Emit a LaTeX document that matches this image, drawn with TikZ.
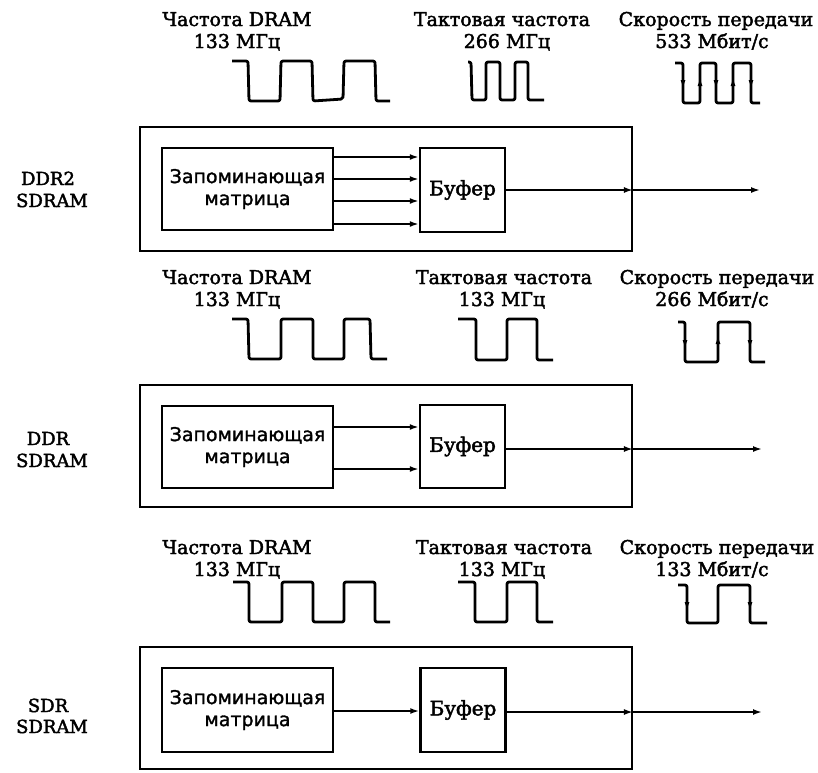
\documentclass[tikz,border=0pt]{standalone}
\usepackage{fontspec}
\setmainfont{DejaVu Serif}[RawFeature={embolden=2.2}]
\newfontfamily\sansf{DejaVu Sans}[RawFeature={embolden=1.5}]
\usetikzlibrary{arrows.meta}
\tikzset{
  lbl/.style={font=\fontsize{19}{22}\selectfont, anchor=base, inner sep=0pt},
  sidelbl/.style={font=\fontsize{18}{22}\selectfont, anchor=base, inner sep=0pt},
  outerbox/.style={draw, line width=1.9pt, minimum width=492pt, minimum height=124pt, inner sep=0pt},
  matbox/.style={draw, line width=2.5pt, minimum width=171pt, minimum height=82pt, align=center, inner sep=0pt, font=\sansf\fontsize{19}{22}\selectfont},
  bufbox/.style={draw, line width=2.5pt, minimum width=85pt, minimum height=84pt, inner sep=0pt, font=\fontsize{20}{22}\selectfont},
  arr/.style={line width=1.7pt, -{Latex[length=9pt,width=6pt]}},
  wave/.style={line width=2.8pt, rounded corners=2pt, line join=round},
  edgearr/.style={line width=1.5pt, -{Latex[length=9pt,width=5pt]}}
}
\begin{document}
\begin{tikzpicture}[x={(1pt,0pt)}, y={(0pt,-1pt)}]
\useasboundingbox (0,0) rectangle (818,772);

% ---------- Row 1: DDR2 ----------
\node[lbl] (t1a) at (237,26) {Частота DRAM};
\node[lbl] (t1b) at (237,48) {133 МГц};
\node[lbl] (t1c) at (502,26) {Тактовая частота};
\node[lbl] (t1d) at (507,48) {266 МГц};
\node[lbl] (t1e) at (716,26) {Скорость передачи};
\node[lbl] (t1f) at (712,48) {533 Мбит/с};

\draw[wave] (232,61) -- (248,61) -- (249,101) -- (280,101) -- (281,61) -- (312,61) -- (313,101) -- (343,99) -- (344,61) -- (375,61) -- (376,101) -- (390,101);
\draw[wave] (468,62) -- (471,62) -- (472,100) -- (486,100) -- (486,62) -- (500,62) -- (500,100) -- (515,100) -- (515,62) -- (528,62) -- (528,100) -- (544,100);
\draw[wave] (675,63) -- (683,63) -- (683,103) -- (700,103) -- (700,63) -- (716,63) -- (716,103) -- (733,103) -- (733,63) -- (751,63) -- (751,103) -- (760,103);
\draw[edgearr] (683,63) -- (683,89);
\draw[edgearr] (700,103) -- (700,77);
\draw[edgearr] (716,63) -- (716,89);
\draw[edgearr] (733,103) -- (733,77);
\draw[edgearr] (751,63) -- (751,89);

\node[sidelbl] (l1a) at (48,185) {DDR2};
\node[sidelbl] (l1b) at (52,207) {SDRAM};
\node[outerbox] (o1) at (386,189) {};
\node[matbox] (m1) at (247.5,189) {Запоминающая\\матрица};
\node[bufbox] (b1) at (462.5,190) {Буфер};
\draw[arr] (m1.east |- 0,157) -- (b1.west |- 0,157);
\draw[arr] (m1.east |- 0,179) -- (b1.west |- 0,179);
\draw[arr] (m1.east |- 0,201) -- (b1.west |- 0,201);
\draw[arr] (m1.east |- 0,224) -- (b1.west |- 0,224);
\coordinate (e1) at (760,190);
\draw[arr] (b1.east) -- (b1.east -| o1.east);
\draw[arr] (b1.east -| o1.east) -- (e1);

% ---------- Row 2: DDR ----------
\node[lbl] (t2a) at (237,284) {Частота DRAM};
\node[lbl] (t2b) at (237,306) {133 МГц};
\node[lbl] (t2c) at (504,284) {Тактовая частота};
\node[lbl] (t2d) at (502,306) {133 МГц};
\node[lbl] (t2e) at (717,284) {Скорость передачи};
\node[lbl] (t2f) at (712,306) {266 Мбит/с};

\draw[wave] (232,319) -- (248,319) -- (249,359) -- (281,359) -- (281,319) -- (313,319) -- (313,359) -- (344,359) -- (344,319) -- (370,319) -- (371,359) -- (387,359);
\draw[wave] (458,319) -- (476,319) -- (476,360) -- (507,360) -- (507,319) -- (537,319) -- (537,360) -- (553,360);
\draw[wave] (678,322) -- (685,322) -- (685,362) -- (718,362) -- (718,322) -- (750,322) -- (750,362) -- (765,362);
\draw[edgearr] (685,322) -- (685,349);
\draw[edgearr] (718,362) -- (718,335);
\draw[edgearr] (750,322) -- (750,349);

\node[sidelbl] (l2a) at (48,445) {DDR};
\node[sidelbl] (l2b) at (52,467) {SDRAM};
\node[outerbox, minimum height=122pt] (o2) at (386,446) {};
\node[matbox] (m2) at (247.5,447) {Запоминающая\\матрица};
\node[bufbox, minimum height=83pt] (b2) at (462.5,446.5) {Буфер};
\draw[arr] (m2.east |- 0,427) -- (b2.west |- 0,427);
\draw[arr] (m2.east |- 0,469) -- (b2.west |- 0,469);
\coordinate (e2) at (762,449);
\draw[arr] (b2.east |- 0,449) -- (o2.east |- 0,449);
\draw[arr] (o2.east |- 0,449) -- (e2);

% ---------- Row 3: SDR ----------
\node[lbl] (t3a) at (237,554) {Частота DRAM};
\node[lbl] (t3b) at (237,576) {133 МГц};
\node[lbl] (t3c) at (504,554) {Тактовая частота};
\node[lbl] (t3d) at (502,576) {133 МГц};
\node[lbl] (t3e) at (717,554) {Скорость передачи};
\node[lbl] (t3f) at (712,576) {133 Мбит/с};

\draw[wave] (233,582) -- (249,582) -- (249,622) -- (282,622) -- (282,582) -- (313,582) -- (313,622) -- (344,622) -- (344,582) -- (375,582) -- (375,622) -- (390,622);
\draw[wave] (458,582) -- (475,582) -- (475,622) -- (507,622) -- (507,582) -- (537,582) -- (537,622) -- (553,622);
\draw[wave] (678,585) -- (687,585) -- (687,623) -- (718,623) -- (718,585) -- (750,585) -- (750,623) -- (767,623);
\draw[edgearr] (687,585) -- (687,611);
\draw[edgearr] (750,585) -- (750,611);

\node[sidelbl] (l3a) at (48,712) {SDR};
\node[sidelbl] (l3b) at (52,733) {SDRAM};
\node[outerbox, minimum height=122pt] (o3) at (386,708) {};
\node[matbox, minimum height=84pt] (m3) at (247.5,710) {Запоминающая\\матрица};
\node[bufbox] (b3) at (463,710) {Буфер};
\draw[arr] (m3.east |- 0,711) -- (b3.west |- 0,711);
\coordinate (e3) at (762,712);
\draw[arr] (b3.east |- 0,712) -- (o3.east |- 0,712);
\draw[arr] (o3.east |- 0,712) -- (e3);
\end{tikzpicture}
\end{document}
